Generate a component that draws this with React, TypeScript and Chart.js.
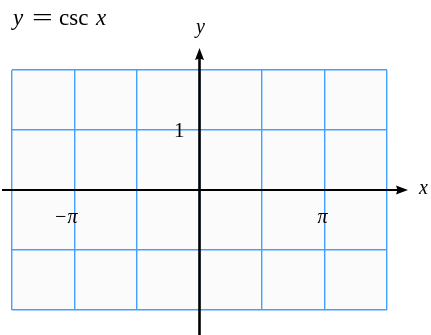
import React, { useEffect, useRef } from "react";
import { Chart, registerables } from "chart.js";

Chart.register(...registerables);

// Units: x in multiples of π/2, y in plain units
const xRange = [-3, 3];
const yRange = [-2, 2];
const xTickValues = [-2, 2];
const xTickLabels = ["\u2212\u03c0", "\u03c0"];
const yTickValues = [1];
const yTickLabels = ["1"];
const titleParts = [
  { text: "y", italic: true },
  { text: "=", italic: false },
  { text: "csc", italic: false },
  { text: "x", italic: true },
];

const SERIF = '"Liberation Serif", "Times New Roman", serif';
const GRID = "#459fff";

const axesPlugin = {
  id: "axesPlugin",
  beforeDraw(chart: any) {
    const { ctx, chartArea } = chart;
    ctx.save();
    ctx.fillStyle = "#fbfbfb";
    ctx.fillRect(chartArea.left, chartArea.top, chartArea.right - chartArea.left, chartArea.bottom - chartArea.top);
    ctx.restore();
  },
  afterDraw(chart: any) {
    const { ctx } = chart;
    const xs = chart.scales.x;
    const ys = chart.scales.y;
    const x0 = xs.getPixelForValue(0);
    const y0 = ys.getPixelForValue(0);
    const H = chart.height;
    ctx.save();
    ctx.strokeStyle = "#000";
    ctx.fillStyle = "#000";
    // x axis
    ctx.lineWidth = 2;
    ctx.beginPath();
    ctx.moveTo(2, y0);
    ctx.lineTo(400, y0);
    ctx.stroke();
    ctx.beginPath();
    ctx.moveTo(408, y0);
    ctx.lineTo(396, y0 - 4.5);
    ctx.lineTo(397.5, y0);
    ctx.lineTo(396, y0 + 4.5);
    ctx.closePath();
    ctx.fill();
    // y axis
    ctx.lineWidth = 2.6;
    ctx.beginPath();
    ctx.moveTo(x0, H);
    ctx.lineTo(x0, 56);
    ctx.stroke();
    ctx.beginPath();
    ctx.moveTo(x0, 48);
    ctx.lineTo(x0 - 4.5, 60);
    ctx.lineTo(x0, 58.5);
    ctx.lineTo(x0 + 4.5, 60);
    ctx.closePath();
    ctx.fill();

    // tick labels
    ctx.textBaseline = "alphabetic";
    ctx.font = `italic 20px ${SERIF}`;
    ctx.textAlign = "right";
    xTickValues.forEach((v, i) => {
      ctx.fillText(xTickLabels[i], xs.getPixelForValue(v) + 3, y0 + 33);
    });
    ctx.font = `21px ${SERIF}`;
    yTickValues.forEach((v, i) => {
      ctx.fillText(yTickLabels[i], x0 - 15, ys.getPixelForValue(v) + 7);
    });

    // axis labels
    ctx.font = `italic 20px ${SERIF}`;
    ctx.textAlign = "center";
    ctx.fillText("y", x0 + 1, 33);
    ctx.textAlign = "left";
    ctx.fillText("x", 419, y0 + 4);

    // title
    const positions = [13, 32, 59, 96];
    titleParts.forEach((p, i) => {
      ctx.font = `${p.italic ? "italic " : ""}23px ${SERIF}`;
      ctx.textAlign = "left";
      if (p.text === "=") {
        ctx.save();
        ctx.translate(positions[i], 0);
        ctx.scale(1.6, 1);
        ctx.fillText(p.text, 0, 25);
        ctx.restore();
      } else {
        ctx.fillText(p.text, positions[i], 25);
      }
    });
    ctx.restore();
  },
};

export default function App() {
  const ref = useRef<HTMLCanvasElement | null>(null);
  useEffect(() => {
    if (!ref.current) return;
    const chart = new Chart(ref.current, {
      type: "scatter",
      data: { datasets: [] },
      options: {
        responsive: false,
        animation: false,
        layout: { padding: { left: 12, right: 44, top: 70, bottom: 25 } },
        plugins: { legend: { display: false }, tooltip: { enabled: false }, title: { display: false } },
        scales: {
          x: {
            type: "linear",
            min: xRange[0],
            max: xRange[1],
            ticks: { display: false, stepSize: 1 },
            border: { display: false },
            grid: { color: GRID, lineWidth: 1.4, drawTicks: false },
          },
          y: {
            type: "linear",
            min: yRange[0],
            max: yRange[1],
            ticks: { display: false, stepSize: 1 },
            border: { display: false },
            grid: { color: GRID, lineWidth: 1.4, drawTicks: false },
          },
        },
      },
      plugins: [axesPlugin],
    });
    return () => chart.destroy();
  }, []);
  return (
    <div style={{ position: "absolute", left: 0, top: 0, width: 431, height: 335, background: "#fff" }}>
      <canvas ref={ref} width={431} height={335} style={{ display: "block" }} />
    </div>
  );
}
